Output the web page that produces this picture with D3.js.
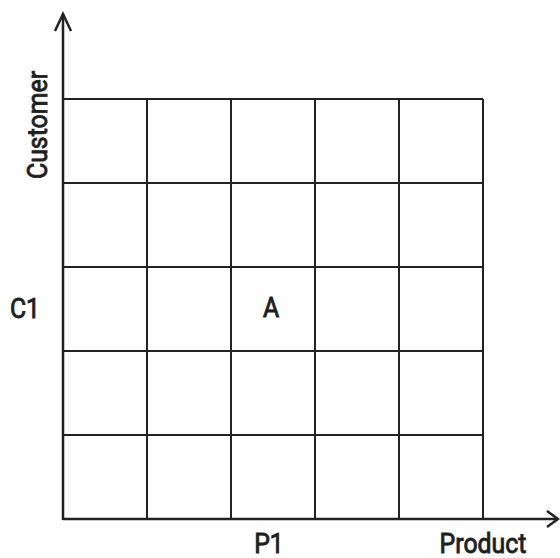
<!DOCTYPE html>
<html>
<head>
<meta charset="utf-8">
<script src="https://cdn.jsdelivr.net/npm/d3@7"></script>
<style>
  body { margin: 0; background: #fff; }
  text { font-family: Roboto, "Liberation Sans", sans-serif; font-weight: normal; fill: #1f1f1f; stroke: #1f1f1f; stroke-width: 0.9px; }
</style>
</head>
<body>
<div class="fig"></div>
<script>
// grid categories
var products = ["", "", "P1", "", ""];
var customers = ["", "", "C1", "", ""];
// labelled cells: [product index, customer index, label]
var cells = [[2, 2, "A"]];
var axisNames = ["Product", "Customer"];

const svg = d3.select(".fig")
              .append("svg")
              .attr("width", 560)
              .attr("height", 558)

var x = d3.scaleLinear()
          .domain([0, products.length])
          .range([63, 483]);
var y = d3.scaleLinear()
          .domain([0, customers.length])
          .range([519, 99]);

var ink = "#222";
var fs = 27, sx = 0.92;

function place(px, py, rot) {
  return "translate(" + px + "," + py + ")" + (rot ? " rotate(" + rot + ")" : "") + " scale(" + sx + ",1)";
}

// vertical grid lines
svg.selectAll("line.v")
   .data(d3.range(1, products.length + 1))
   .enter().append("line")
   .attr("class", "v")
   .attr("x1", d => x(d)).attr("x2", d => x(d))
   .attr("y1", y(0)).attr("y2", y(customers.length))
   .attr("stroke", ink).attr("stroke-width", 2);

// horizontal grid lines
svg.selectAll("line.h")
   .data(d3.range(1, customers.length + 1))
   .enter().append("line")
   .attr("class", "h")
   .attr("y1", d => y(d)).attr("y2", d => y(d))
   .attr("x1", x(0)).attr("x2", x(products.length))
   .attr("stroke", ink).attr("stroke-width", 2);

// axes with arrows
svg.append("line")
   .attr("x1", x(0)).attr("y1", y(0))
   .attr("x2", 558).attr("y2", y(0))
   .attr("stroke", ink).attr("stroke-width", 2.5);
svg.append("path")
   .attr("d", "M547," + (y(0) - 8) + " L558," + y(0) + " L547," + (y(0) + 8))
   .attr("fill", "none").attr("stroke", ink).attr("stroke-width", 2.5);

svg.append("line")
   .attr("x1", x(0)).attr("y1", y(0) + 1)
   .attr("x2", x(0)).attr("y2", 14)
   .attr("stroke", ink).attr("stroke-width", 2.5);
svg.append("path")
   .attr("d", "M" + (x(0) - 8) + ",31 L" + x(0) + ",14 L" + (x(0) + 8) + ",31")
   .attr("fill", "none").attr("stroke", ink).attr("stroke-width", 2.5);

// category labels
svg.selectAll("text.p")
   .data(products)
   .enter().append("text")
   .attr("transform", (d, i) => place(x(i + 0.5) - 4, 553))
   .attr("text-anchor", "middle")
   .style("font-size", fs)
   .text(d => d);

svg.selectAll("text.c")
   .data(customers)
   .enter().append("text")
   .attr("transform", (d, i) => place(25, y(i + 0.5) + 9))
   .attr("text-anchor", "middle")
   .style("font-size", fs)
   .text(d => d);

svg.selectAll("text.cell")
   .data(cells)
   .enter().append("text")
   .attr("transform", d => place(x(d[0] + 0.5) - 2, y(d[1] + 0.5) + 8))
   .attr("text-anchor", "middle")
   .style("font-size", fs)
   .text(d => d[2]);

// axis names
svg.append("text")
   .attr("transform", place(483, 553))
   .attr("text-anchor", "middle")
   .style("font-size", fs)
   .text(axisNames[0]);

svg.append("text")
   .attr("transform", "translate(47,125) rotate(-90) scale(" + sx + ",1)")
   .attr("text-anchor", "middle")
   .style("font-size", fs)
   .text(axisNames[1]);
</script>
</body>
</html>
